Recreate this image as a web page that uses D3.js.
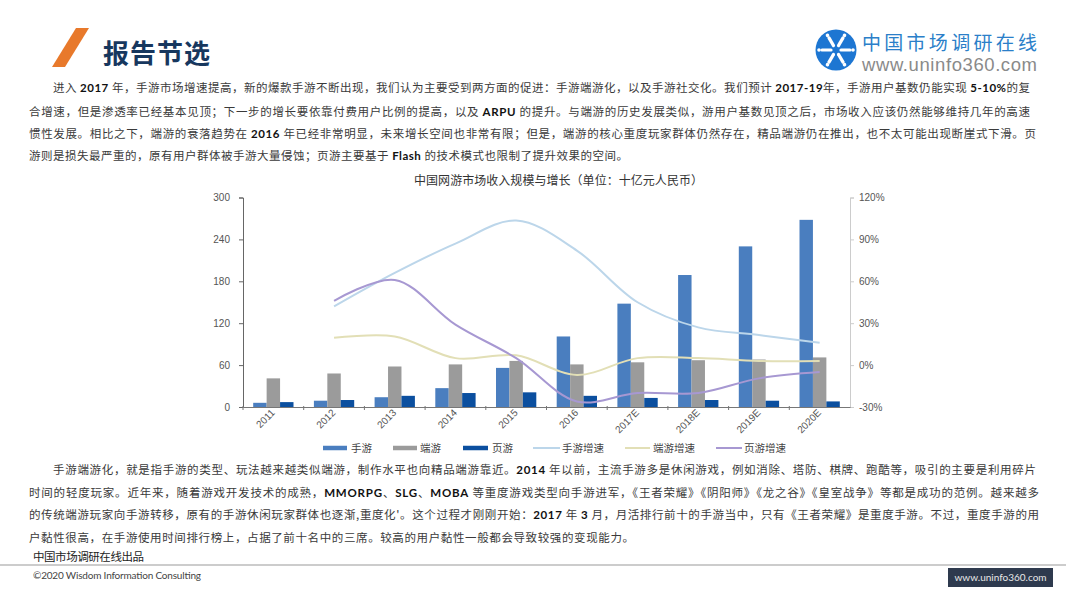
<!DOCTYPE html>
<html>
<head>
<meta charset="utf-8">
<title>报告节选</title>
<script src="https://cdn.jsdelivr.net/npm/d3@7"></script>
<style>
html,body{margin:0;padding:0;background:#fff;overflow:hidden;}
text{font-family:"Noto Sans CJK SC",sans-serif;}
.body-text{font-size:11.5px;fill:#3a3a3a;}
.body-text .b{font-family:Lato,sans-serif;font-weight:700;fill:#111;}
.tick-label{font-family:"Liberation Sans",sans-serif;font-size:10px;fill:#555;}
</style>
</head>
<body>
<svg id="page" width="1066" height="600"></svg>
<script>
// chart data
var categories = ["2011","2012","2013","2014","2015","2016","2017E","2018E","2019E","2020E"];
var mobile = [6,9,14,27,56,101,148,189,230,268];
var client = [41,48,58,61,66,61,64,67,68,71];
var browser = [7,10,16,20,21,16,13,10,9,8];
var mobileGrowth = [null,42,66,87,103.5,82,45,27,21.5,16];
var clientGrowth = [null,19.5,20.5,5,7,-7,5,5,3,3];
var browserGrowth = [null,46,61,29,5,-26,-20,-20,-9.5,-5];
var leftTicks = [0,60,120,180,240,300];
var rightTicks = [-30,0,30,60,90,120];
var barNames = ["手游","端游","页游"];
var lineNames = ["手游增速","端游增速","页游增速"];
var barColors = ["#4a7ebf","#9b9b9b","#0b4f9f"];
var lineColors = ["#bcd6ea","#e2dfb6","#a798d2"];

// text, ** marks the latin bold runs
var para1 = [
  "进入 **2017** 年，手游市场增速提高，新的爆款手游不断出现，我们认为主要受到两方面的促进：手游端游化，以及手游社交化。我们预计 **2017-19**年，手游用户基数仍能实现 **5-10%**的复",
  "合增速，但是渗透率已经基本见顶；下一步的增长要依靠付费用户比例的提高，以及 **ARPU** 的提升。与端游的历史发展类似，游用户基数见顶之后，市场收入应该仍然能够维持几年的高速",
  "惯性发展。相比之下，端游的衰落趋势在 **2016** 年已经非常明显，未来增长空间也非常有限；但是，端游的核心重度玩家群体仍然存在，精品端游仍在推出，也不太可能出现断崖式下滑。页",
  "游则是损失最严重的，原有用户群体被手游大量侵蚀；页游主要基于 **Flash** 的技术模式也限制了提升效果的空间。"
];
var para2 = [
  "手游端游化，就是指手游的类型、玩法越来越类似端游，制作水平也向精品端游靠近。**2014** 年以前，主流手游多是休闲游戏，例如消除、塔防、棋牌、跑酷等，吸引的主要是利用碎片",
  "时间的轻度玩家。近年来，随着游戏开发技术的成熟，**MMORPG**、**SLG**、**MOBA** 等重度游戏类型向手游进军，《王者荣耀》《阴阳师》《龙之谷》《皇室战争》等都是成功的范例。越来越多",
  "的传统端游玩家向手游转移，原有的手游休闲玩家群体也逐渐,重度化'。这个过程才刚刚开始：**2017** 年 **3** 月，月活排行前十的手游当中，只有《王者荣耀》是重度手游。不过，重度手游的用",
  "户黏性很高，在手游使用时间排行榜上，占据了前十名中的三席。较高的用户黏性一般都会导致较强的变现能力。"
];

var svg = d3.select("#page");

// ---- header
svg.append("path").attr("d","M76 28L89 28L65 67L52 67Z").attr("fill","#e8792b");
svg.append("text").attr("x",103).attr("y",63).attr("font-size",26).attr("font-weight",700)
  .attr("fill","#17375e").attr("textLength",107).text("报告节选");

// logo
var logo = svg.append("g").attr("transform","translate(836,50)");
logo.append("circle").attr("r",20.5).attr("fill","#1d76d2");
d3.range(6).forEach(function(i){
  var a = i*60+30;
  var arm = logo.append("g").attr("transform","rotate("+a+")");
  arm.append("line").attr("x1",0).attr("y1",-5).attr("x2",0).attr("y2",-14)
    .attr("stroke","#fff").attr("stroke-width",3.2).attr("stroke-linecap","round");
  arm.append("circle").attr("cy",-17).attr("r",1.8).attr("fill","#fff");
});
svg.append("text").attr("x",862).attr("y",50).attr("font-size",19).attr("fill","#2b7fc9")
  .attr("textLength",175).text("中国市场调研在线");
svg.append("text").attr("x",862).attr("y",71).attr("font-size",18.5).attr("fill","#8a8a8a")
  .style("font-family","'Liberation Sans',sans-serif").attr("textLength",175).text("www.uninfo360.com");

// ---- paragraphs
function drawLine(str,x,y,x2){
  var t = svg.append("text").attr("class","body-text").attr("x",x).attr("y",y)
    .attr("textLength",x2-x).attr("lengthAdjust","spacing");
  str.split("**").forEach(function(s,i){
    t.append("tspan").attr("class",i%2?"b":null).text(s);
  });
}
var p1Pos = [[53,92,1030],[29,116,1030],[29,138,1036],[29,160,628]];
var p2Pos = [[53,474,1036],[29,497,1039],[29,519,1039],[29,542,634]];
para1.forEach(function(s,i){drawLine(s,p1Pos[i][0],p1Pos[i][1],p1Pos[i][2]);});
para2.forEach(function(s,i){drawLine(s,p2Pos[i][0],p2Pos[i][1],p2Pos[i][2]);});

// ---- chart
var x0 = 243, x1 = 850, yBase = 407, yTop = 197.5;
var x = d3.scaleBand().domain(categories).range([x0,x1]);
var xGroup = d3.scaleBand().domain(barNames).range([10.2,50.5]);
var yL = d3.scaleLinear().domain([0,300]).range([yBase,yTop]);
var yR = d3.scaleLinear().domain([-30,120]).range([yBase,yTop]);

svg.append("text").attr("x",414).attr("y",185).attr("font-size",12).attr("fill","#333")
  .attr("textLength",289).text("中国网游市场收入规模与增长（单位：十亿元人民币）");

// bars
[mobile,client,browser].forEach(function(vals,k){
  svg.append("g").selectAll("rect").data(vals).enter().append("rect")
    .attr("x",function(d,i){return x(categories[i])+xGroup(barNames[k]);})
    .attr("y",function(d){return yL(d);})
    .attr("width",xGroup.bandwidth())
    .attr("height",function(d){return yBase-yL(d);})
    .attr("fill",barColors[k]);
});

// growth lines, smoothed like the original. they start at the first real value
[mobileGrowth,clientGrowth,browserGrowth].forEach(function(vals,k){
  var start = vals.findIndex(function(d){return d!==null;});
  var line = d3.line()
    .x(function(d,i){return x(categories[i+start])+x.bandwidth()/2;})
    .y(function(d){return yR(d);})
    .curve(d3.curveCatmullRom.alpha(0.5));
  svg.append("path").attr("d",line(vals.slice(start)))
    .attr("fill","none").attr("stroke",lineColors[k]).attr("stroke-width",2);
});

// axes
var axisLeft = svg.append("g").attr("transform","translate("+x0+",0)")
  .call(d3.axisLeft(yL).tickValues(leftTicks).tickSize(4).tickPadding(9));
axisLeft.select(".domain").attr("stroke","#666");
axisLeft.selectAll("line").attr("stroke","#666");
axisLeft.selectAll("text").attr("class","tick-label");

var axisRight = svg.append("g").attr("transform","translate("+x1+",0)")
  .call(d3.axisRight(yR).tickValues(rightTicks).tickSize(4).tickPadding(5).tickFormat(function(d){return d+"%";}));
axisRight.select(".domain").attr("stroke","#ccc");
axisRight.selectAll("line").attr("stroke","#ccc");
axisRight.selectAll("text").attr("class","tick-label");

var axisBottom = svg.append("g").attr("transform","translate(0,"+yBase+")")
  .call(d3.axisBottom(x).tickSize(0).tickPadding(8));
axisBottom.select(".domain").attr("stroke","#777");
axisBottom.selectAll("text").attr("class","tick-label")
  .attr("text-anchor","end")
  .attr("dx","0.2em").attr("dy","0.3em")
  .attr("transform","translate(-7,0) rotate(-45)");
axisBottom.selectAll("g.mark").data(categories).enter().append("line")
  .attr("x1",function(d){return x(d);}).attr("x2",function(d){return x(d);})
  .attr("y1",-1).attr("y2",3).attr("stroke","#777");

// legend
var legendY = 448;
var legBars = [[323,347,351],[393,417,420],[463,488,492]];
barNames.forEach(function(n,i){
  svg.append("line").attr("x1",legBars[i][0]).attr("x2",legBars[i][1]).attr("y1",legendY).attr("y2",legendY)
    .attr("stroke",barColors[i]).attr("stroke-width",4.5);
  svg.append("text").attr("x",legBars[i][2]).attr("y",legendY+4).attr("font-size",10.5).attr("fill","#444").text(n);
});
var legLines = [[533,560,562],[625,650,653],[716,742,744]];
lineNames.forEach(function(n,i){
  svg.append("line").attr("x1",legLines[i][0]).attr("x2",legLines[i][1]).attr("y1",legendY).attr("y2",legendY)
    .attr("stroke",lineColors[i]).attr("stroke-width",2);
  svg.append("text").attr("x",legLines[i][2]).attr("y",legendY+4).attr("font-size",10.5).attr("fill","#444").text(n);
});

// ---- footer
svg.append("text").attr("x",33).attr("y",561).attr("font-size",11.5).attr("fill","#222")
  .attr("textLength",111).text("中国市场调研在线出品");
svg.append("line").attr("x1",0).attr("x2",1066).attr("y1",565).attr("y2",565).attr("stroke","#9a9a9a").attr("stroke-width",1.2);
svg.append("text").attr("x",33).attr("y",579).attr("font-size",10).attr("fill","#444")
  .style("font-family","Lato,sans-serif").attr("textLength",168).text("©2020 Wisdom Information Consulting");
svg.append("rect").attr("x",948).attr("y",568).attr("width",105).attr("height",19).attr("fill","#2e3a4e");
svg.append("text").attr("x",1000.5).attr("y",581).attr("font-size",10).attr("fill","#e8e8e8")
  .attr("text-anchor","middle").style("font-family","Lato,sans-serif").text("www.uninfo360.com");
</script>
</body>
</html>
